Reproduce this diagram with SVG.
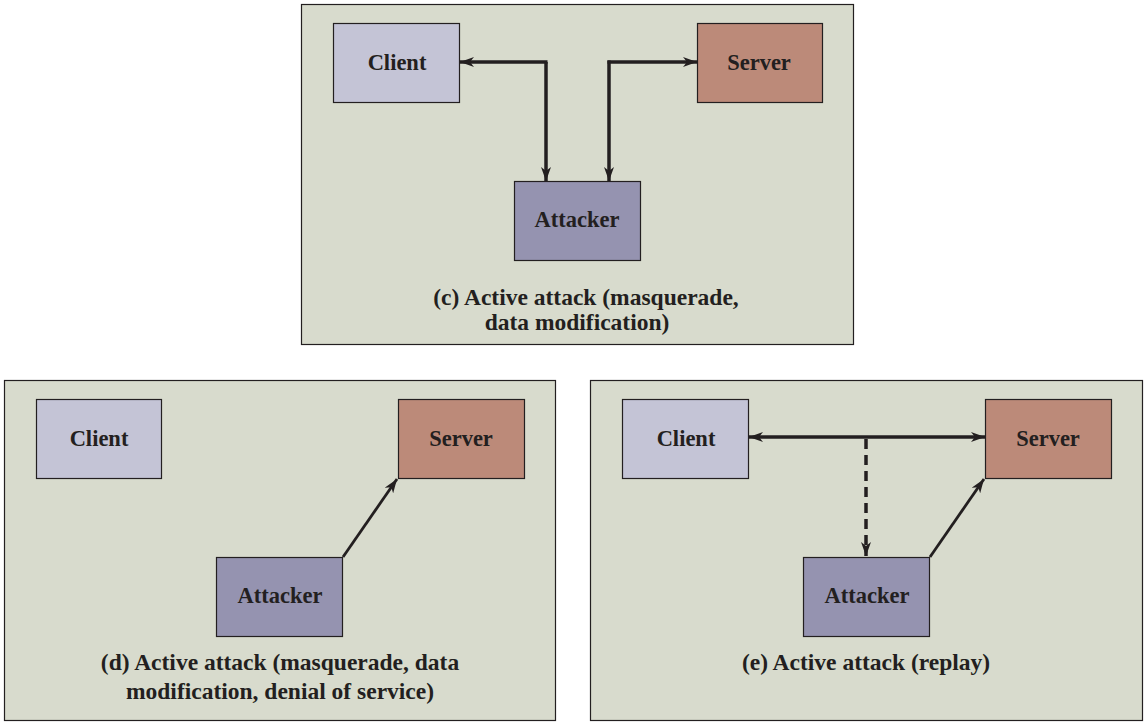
<svg xmlns="http://www.w3.org/2000/svg" width="1148" height="725" viewBox="0 0 1148 725">
<defs>
<style>
.panel{fill:#d8dbcd;stroke:#231f20;stroke-width:1.2}
.box{stroke:#231f20;stroke-width:1.2}
.client{fill:#c4c4d6}
.server{fill:#bc8a79}
.attacker{fill:#9593b0}
.lbl{font-family:'Liberation Serif','Times New Roman',serif;font-weight:bold;font-size:22.5px;fill:#231f20;text-anchor:middle}
.cap{font-family:'Liberation Serif','Times New Roman',serif;font-weight:bold;font-size:23.5px;fill:#231f20;text-anchor:middle}
.conn{fill:none;stroke:#231f20;stroke-width:3.5}
.dash{stroke-dasharray:10,6}
</style>
<marker id="ah" viewBox="0 0 14 10" refX="14" refY="5" markerWidth="14" markerHeight="10" markerUnits="userSpaceOnUse" orient="auto-start-reverse">
<path d="M0,0 L14,5 L0,10 L4,5 Z" fill="#231f20"/>
</marker>
</defs>
<rect class="panel" x="301.5" y="4.5" width="552" height="340"/>
<rect class="panel" x="4.5" y="380.5" width="551" height="340"/>
<rect class="panel" x="590.5" y="380.5" width="552" height="340"/>
<g id="c-client"><rect class="box client" x="333.5" y="23.5" width="126" height="79"/><text class="lbl" x="397" y="69.5">Client</text></g>
<g id="c-server"><rect class="box server" x="697.5" y="23.5" width="125" height="79"/><text class="lbl" x="759" y="69.5">Server</text></g>
<g id="c-attacker"><rect class="box attacker" x="514.5" y="181.5" width="126" height="79"/><text class="lbl" x="577" y="226.5">Attacker</text></g>
<g id="d-client"><rect class="box client" x="36.5" y="399.5" width="125" height="79"/><text class="lbl" x="99" y="445.5">Client</text></g>
<g id="d-server"><rect class="box server" x="398.5" y="399.5" width="126" height="79"/><text class="lbl" x="461" y="445.5">Server</text></g>
<g id="d-attacker"><rect class="box attacker" x="216.5" y="557.5" width="126" height="79"/><text class="lbl" x="280" y="602.5">Attacker</text></g>
<g id="e-client"><rect class="box client" x="622.5" y="399.5" width="126" height="79"/><text class="lbl" x="686" y="445.5">Client</text></g>
<g id="e-server"><rect class="box server" x="985.5" y="399.5" width="126" height="79"/><text class="lbl" x="1048" y="445.5">Server</text></g>
<g id="e-attacker"><rect class="box attacker" x="803.5" y="557.5" width="126" height="79"/><text class="lbl" x="867" y="602.5">Attacker</text></g>
<g id="connectors">
<path class="conn" d="M547.5,62 L460,62" marker-end="url(#ah)"/>
<path class="conn" d="M546,62 L546,181" marker-end="url(#ah)"/>
<path class="conn" d="M607.5,62 L697,62" marker-end="url(#ah)"/>
<path class="conn" d="M609,60.5 L609,181" marker-end="url(#ah)"/>
<path class="conn" d="M343,557 L397,479" style="stroke-width:2.8" marker-end="url(#ah)"/>
<path class="conn" d="M749,437 L985,437" marker-start="url(#ah)" marker-end="url(#ah)"/>
<path class="conn dash" d="M866,439 L866,556" marker-end="url(#ah)"/>
<path class="conn" d="M930,557 L984,479" style="stroke-width:2.8" marker-end="url(#ah)"/>
</g>
<text class="cap" x="586" y="305">(c) Active attack (masquerade,</text>
<text class="cap" x="577" y="330">data modification)</text>
<text class="cap" x="280" y="670">(d) Active attack (masquerade, data</text>
<text class="cap" x="280" y="699">modification, denial of service)</text>
<text class="cap" x="866" y="670">(e) Active attack (replay)</text>
</svg>
